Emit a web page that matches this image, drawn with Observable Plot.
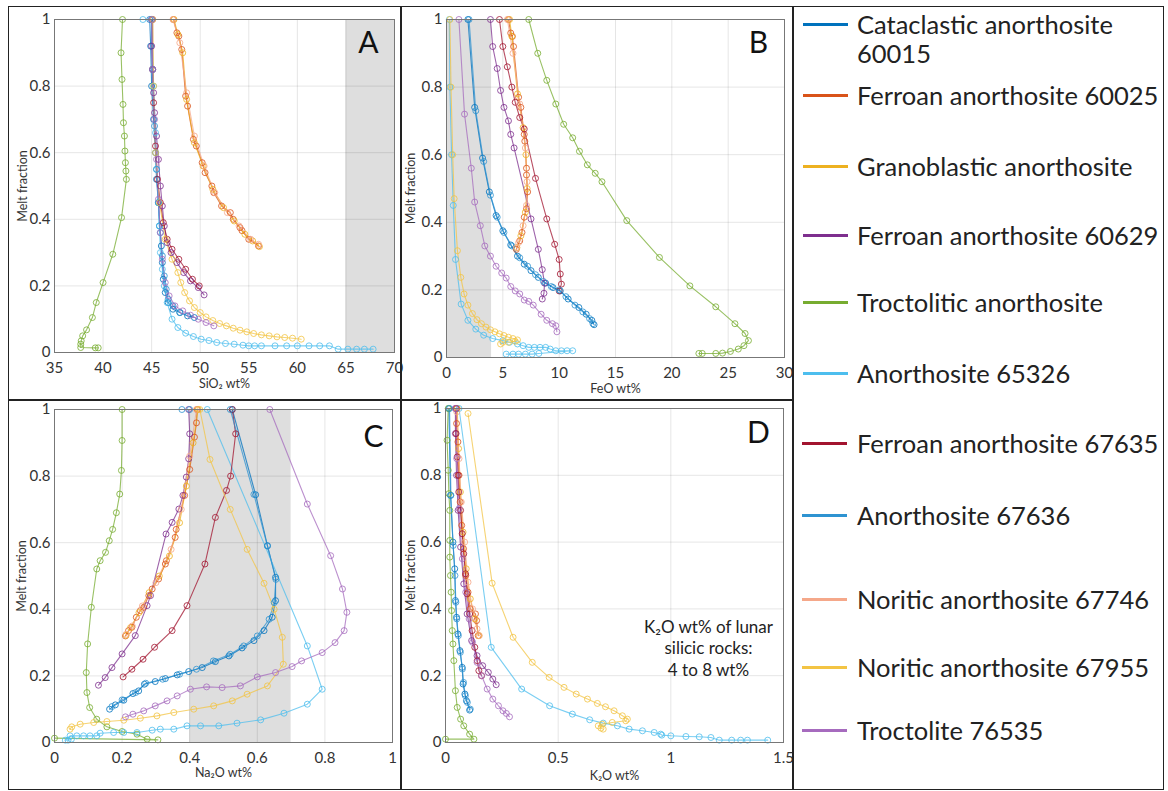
<!DOCTYPE html>
<html><head><meta charset="utf-8">
<script src="https://cdn.jsdelivr.net/npm/d3@7"></script>
<script src="https://cdn.jsdelivr.net/npm/@observablehq/plot@0.6"></script>
<style>
body{margin:0;background:#fff;font-family:Lato,"Open Sans",sans-serif;}
#wrap{position:relative;width:1168px;height:791px;overflow:hidden;}
.pan{position:absolute;}
.box{position:absolute;border:1.5px solid #222;box-sizing:border-box;pointer-events:none;}
.lg-line{position:absolute;height:3px;width:45px;}
.lg-text{position:absolute;font-size:25.5px;color:#222;line-height:30px;white-space:nowrap;transform:translateY(-50%);}
</style></head><body><div id="wrap"></div>
<script>
// ---------- series ----------
const seriesNames = ["Cataclastic anorthosite 60015","Ferroan anorthosite 60025","Granoblastic anorthosite","Ferroan anorthosite 60629","Troctolitic anorthosite","Anorthosite 65326","Ferroan anorthosite 67635","Anorthosite 67636","Noritic anorthosite 67746","Noritic anorthosite 67955","Troctolite 76535"];
const legendLabels = [["Cataclastic anorthosite","60015"],["Ferroan anorthosite 60025"],["Granoblastic anorthosite"],["Ferroan anorthosite 60629"],["Troctolitic anorthosite"],["Anorthosite 65326"],["Ferroan anorthosite 67635"],["Anorthosite 67636"],["Noritic anorthosite 67746"],["Noritic anorthosite 67955"],["Troctolite 76535"]];
const seriesColors = ["#0072BD","#D95319","#EDB120","#7E2F8E","#77AC30","#4DBEEE","#A2142F","#2E93D1","#F5A88A","#F3C444","#A66BBE"];

// ---------- ticks ----------
const yTicks = [0,0.2,0.4,0.6,0.8,1];
const ticksSiO2 = [35,40,45,50,55,60,65,70];
const ticksFeO = [0,5,10,15,20,25,30];
const ticksNa2O = [0,0.2,0.4,0.6,0.8,1];
const ticksK2O = [0,0.5,1,1.5];
const shadeSiO2 = [65,70];
const shadeFeO = [0,4];
const shadeNa2O = [0.4,0.7];

// ---------- Panel A: SiO2 wt% vs melt fraction ----------
const sio2_60015 = [[44.8,1],[44.9,0.92],[45.0,0.8],[45.2,0.7],[45.4,0.6],[45.5,0.52],[45.7,0.45],[45.8,0.38],[46.0,0.32],[46.1,0.27],[46.2,0.22],[46.4,0.18],[46.7,0.15],[47.2,0.13],[47.9,0.12],[48.7,0.11],[49.4,0.105]];
const sio2_60025 = [[47.25,1],[47.6,0.96],[47.8,0.95],[48.1,0.91],[48.5,0.77],[48.7,0.74],[49.3,0.64],[49.6,0.62],[50.2,0.57],[50.5,0.54],[51.2,0.5],[51.4,0.48],[52.2,0.44],[53.1,0.42],[53.4,0.4],[54.1,0.375],[54.3,0.366],[55.0,0.34],[56.0,0.32]];
const sio2_gran = [[47.3,1],[47.7,0.955],[48.2,0.9],[48.6,0.76],[49.4,0.63],[50.3,0.56],[51.3,0.49],[52.4,0.435],[53.5,0.395],[54.6,0.355],[55.4,0.335],[56.1,0.318]];
const sio2_60629 = [[45.0,1],[45.0,0.92],[45.1,0.85],[45.2,0.78],[45.3,0.72],[45.5,0.65],[45.7,0.58],[45.9,0.5],[46.1,0.44],[46.3,0.38],[46.6,0.33],[47.0,0.3],[47.6,0.27],[48.3,0.24],[49.0,0.215],[49.8,0.195],[50.4,0.173]];
const sio2_troct = [[42.0,1],[41.85,0.9],[41.95,0.82],[42.05,0.745],[42.1,0.69],[42.2,0.65],[42.25,0.605],[42.3,0.57],[42.35,0.545],[42.4,0.52],[41.9,0.405],[41.0,0.295],[40.0,0.21],[39.3,0.15],[38.9,0.105],[38.3,0.068],[37.9,0.05],[37.75,0.035],[37.7,0.025],[37.7,0.015],[39.2,0.014],[39.5,0.014]];
const sio2_65326 = [[44.1,1],[45.0,1],[45.2,0.8],[45.4,0.66],[45.5,0.55],[45.7,0.45],[45.8,0.38],[45.9,0.3],[46.1,0.25],[46.3,0.2],[46.6,0.15],[47.1,0.1],[47.7,0.075],[48.5,0.058],[49.3,0.048],[50.1,0.04],[50.9,0.036],[51.7,0.03],[52.6,0.027],[53.5,0.025],[54.4,0.022],[55.0,0.02],[55.6,0.02],[56.3,0.02],[57.7,0.02],[58.9,0.02],[60.0,0.02],[61.2,0.02],[62.3,0.02],[63.3,0.02],[64.2,0.01],[65.2,0.01],[66.1,0.01],[66.9,0.01],[67.8,0.01]];
const sio2_67635 = [[45.1,1],[45.1,0.85],[45.2,0.75],[45.4,0.62],[45.6,0.52],[45.9,0.45],[46.2,0.39],[46.6,0.34],[47.1,0.31],[47.8,0.28],[48.5,0.25],[49.2,0.22],[49.9,0.2]];
const sio2_67636 = [[45.0,1],[45.1,0.85],[45.3,0.68],[45.5,0.55],[45.7,0.45],[45.9,0.36],[46.1,0.29],[46.3,0.23],[46.5,0.19],[46.7,0.16],[47.2,0.14],[47.9,0.12]];
const sio2_67746 = [[47.2,1],[47.9,0.93],[48.6,0.78],[49.4,0.65],[50.4,0.56],[51.5,0.48],[52.8,0.42],[54.0,0.38],[55.2,0.34],[56.0,0.325]];
const sio2_67955 = [[45.1,1],[45.2,0.8],[45.4,0.6],[45.8,0.45],[46.4,0.34],[47.1,0.28],[47.7,0.24],[48.0,0.21],[48.4,0.18],[48.9,0.155],[49.4,0.135],[50.0,0.12],[50.6,0.107],[51.3,0.096],[52.0,0.087],[52.7,0.08],[53.4,0.073],[54.1,0.067],[54.8,0.062],[55.5,0.057],[56.3,0.053],[57.1,0.05],[57.9,0.047],[58.7,0.045],[59.5,0.043],[60.4,0.04]];
const sio2_76535 = [[45.0,1],[45.1,0.85],[45.3,0.7],[45.5,0.58],[45.7,0.46],[45.9,0.36],[46.1,0.28],[46.4,0.21],[46.8,0.17],[47.4,0.14],[48.2,0.125],[49.0,0.112],[49.8,0.1],[50.6,0.09],[51.4,0.08]];

// ---------- Panel B: FeO wt% ----------
const feo_60015 = [[1.9,1],[2.5,0.74],[3.2,0.59],[3.8,0.49],[4.4,0.42],[5.0,0.375],[5.7,0.333],[6.3,0.3],[6.9,0.276],[7.5,0.257],[8.15,0.237],[8.8,0.22],[9.45,0.207],[10.1,0.197],[10.8,0.173],[11.75,0.148],[12.4,0.128],[12.9,0.11],[13.1,0.097]];
const feo_60025 = [[5.5,1],[5.7,0.96],[5.85,0.95],[5.95,0.92],[6.4,0.77],[6.6,0.74],[6.9,0.66],[6.95,0.64],[7.1,0.56],[7.1,0.54],[7.2,0.49],[7.1,0.44],[6.9,0.415],[6.7,0.37],[6.5,0.345],[6.2,0.32]];
const feo_gran = [[5.6,1],[5.8,0.95],[6.3,0.78],[6.8,0.68],[7.05,0.6],[7.15,0.5],[7.0,0.43],[6.6,0.36],[6.25,0.325]];
const feo_60629 = [[3.9,1],[4.1,0.92],[4.5,0.855],[4.8,0.79],[5.1,0.74],[5.5,0.7],[5.7,0.66],[6.0,0.62],[7.5,0.41],[8.15,0.32],[8.5,0.26],[8.7,0.22],[8.65,0.19],[8.5,0.173]];
const feo_troct = [[7.3,1],[8.1,0.9],[8.9,0.82],[9.7,0.75],[10.4,0.69],[11.2,0.65],[11.8,0.61],[12.5,0.57],[13.2,0.545],[13.8,0.52],[16.0,0.405],[18.9,0.296],[21.6,0.212],[23.9,0.15],[25.6,0.1],[26.5,0.071],[26.8,0.05],[26.4,0.035],[25.9,0.025],[25.2,0.018],[24.5,0.013],[23.9,0.012],[22.7,0.012],[22.4,0.012]];
const feo_65326 = [[0.25,1],[0.3,0.8],[0.45,0.6],[0.6,0.45],[0.8,0.29],[1.3,0.158],[1.9,0.11],[2.6,0.084],[3.3,0.066],[4.1,0.056],[5.0,0.05],[5.6,0.045],[6.3,0.04],[6.8,0.035],[7.3,0.03],[7.8,0.03],[8.3,0.03],[8.8,0.03],[9.2,0.025],[9.7,0.02],[10.2,0.02],[10.7,0.02],[11.2,0.02],[8.2,0.012],[7.6,0.01],[7.0,0.01],[6.4,0.01],[5.9,0.01],[5.3,0.01]];
const feo_67635 = [[4.7,1],[5.0,0.92],[5.4,0.86],[5.8,0.8],[6.1,0.755],[6.5,0.71],[6.9,0.676],[7.9,0.53],[8.9,0.41],[9.6,0.335],[10.0,0.29],[10.1,0.247],[10.2,0.217],[10.0,0.197]];
const feo_67636 = [[2.0,1],[2.6,0.73],[3.3,0.58],[3.9,0.48],[4.5,0.415],[5.1,0.37],[5.8,0.33],[6.5,0.295],[7.2,0.27],[7.9,0.245],[8.6,0.225],[9.3,0.21],[10.0,0.2],[10.6,0.18],[11.4,0.155],[12.1,0.135],[12.7,0.115],[13.0,0.1]];
const feo_67746 = [[5.4,1],[5.9,0.9],[6.5,0.75],[7.0,0.62],[7.15,0.52],[7.1,0.45],[6.8,0.39],[6.4,0.34],[6.2,0.325]];
const feo_67955 = [[0.3,1],[0.4,0.8],[0.55,0.6],[0.68,0.47],[0.97,0.316],[1.27,0.237],[1.56,0.188],[1.9,0.155],[2.3,0.13],[2.7,0.112],[3.1,0.1],[3.5,0.09],[3.9,0.082],[4.3,0.076],[4.7,0.07],[5.1,0.065],[5.5,0.06],[5.9,0.056],[6.3,0.052],[6.1,0.048],[5.5,0.045],[5.0,0.045],[4.8,0.04]];
const feo_76535 = [[1.1,1],[1.6,0.72],[2.2,0.56],[2.5,0.46],[3.0,0.39],[3.4,0.33],[3.9,0.3],[4.4,0.27],[4.9,0.25],[5.3,0.235],[5.7,0.21],[6.1,0.197],[6.5,0.188],[6.9,0.17],[7.3,0.166],[7.7,0.155],[8.4,0.128],[8.9,0.11],[9.4,0.1],[9.7,0.094],[9.8,0.076]];

// ---------- Panel C: Na2O wt% ----------
const na2o_60015 = [[0.526,1],[0.595,0.744],[0.63,0.591],[0.654,0.496],[0.654,0.426],[0.644,0.376],[0.62,0.336],[0.59,0.306],[0.555,0.284],[0.516,0.26],[0.476,0.243],[0.437,0.225],[0.397,0.213],[0.363,0.203],[0.328,0.192],[0.298,0.183],[0.266,0.175],[0.249,0.155],[0.232,0.147],[0.205,0.127],[0.18,0.113],[0.163,0.1]];
const na2o_60025 = [[0.422,1],[0.42,0.96],[0.414,0.917],[0.4,0.82],[0.385,0.742],[0.36,0.64],[0.357,0.616],[0.331,0.546],[0.328,0.536],[0.308,0.491],[0.289,0.461],[0.279,0.441],[0.264,0.406],[0.254,0.396],[0.242,0.376],[0.229,0.346],[0.219,0.336],[0.21,0.32]];
const na2o_gran = [[0.425,1],[0.41,0.9],[0.39,0.77],[0.37,0.66],[0.34,0.56],[0.31,0.5],[0.28,0.45],[0.25,0.39],[0.225,0.345],[0.212,0.322]];
const na2o_60629 = [[0.397,1],[0.4,0.927],[0.397,0.852],[0.39,0.797],[0.38,0.742],[0.368,0.701],[0.348,0.661],[0.33,0.626],[0.284,0.441],[0.274,0.411],[0.239,0.321],[0.2,0.266],[0.17,0.225],[0.15,0.195],[0.13,0.172]];
const na2o_troct = [[0.2,1],[0.2,0.907],[0.198,0.817],[0.193,0.746],[0.183,0.69],[0.172,0.64],[0.162,0.606],[0.151,0.571],[0.135,0.546],[0.125,0.521],[0.109,0.406],[0.098,0.296],[0.094,0.21],[0.096,0.15],[0.104,0.105],[0.125,0.07],[0.155,0.047],[0.2,0.033],[0.244,0.025],[0.274,0.01],[0.306,0.008],[0.0,0.013]];
const na2o_65326 = [[0.452,1],[0.748,0.29],[0.792,0.16],[0.748,0.115],[0.679,0.088],[0.61,0.068],[0.54,0.058],[0.486,0.05],[0.432,0.05],[0.392,0.05],[0.353,0.04],[0.313,0.04],[0.289,0.037],[0.244,0.03],[0.205,0.03],[0.175,0.03],[0.135,0.028],[0.125,0.02],[0.105,0.02],[0.086,0.02],[0.066,0.02],[0.046,0.02],[0.032,0.007],[0.04,0.007],[0.05,0.01]];
const na2o_67635 = [[0.526,1],[0.536,0.927],[0.521,0.8],[0.509,0.757],[0.476,0.676],[0.445,0.536],[0.392,0.411],[0.348,0.336],[0.296,0.286],[0.262,0.25],[0.229,0.22],[0.203,0.197]];
const na2o_67636 = [[0.377,1],[0.4,1],[0.52,1],[0.59,0.745],[0.63,0.59],[0.655,0.49],[0.65,0.42],[0.635,0.37],[0.6,0.32],[0.56,0.29],[0.52,0.265],[0.47,0.245],[0.42,0.22],[0.37,0.205],[0.32,0.19],[0.27,0.178],[0.24,0.15],[0.2,0.128],[0.17,0.108]];
const na2o_67746 = [[0.42,1],[0.4,0.86],[0.375,0.7],[0.345,0.58],[0.3,0.48],[0.26,0.41],[0.23,0.35],[0.212,0.325]];
const na2o_67955 = [[0.43,1],[0.46,0.85],[0.52,0.7],[0.57,0.58],[0.62,0.478],[0.65,0.4],[0.674,0.316],[0.677,0.235],[0.63,0.17],[0.57,0.145],[0.526,0.125],[0.471,0.11],[0.412,0.1],[0.353,0.09],[0.303,0.08],[0.254,0.073],[0.205,0.067],[0.155,0.063],[0.116,0.06],[0.076,0.055],[0.051,0.047],[0.046,0.04]];
const na2o_76535 = [[0.637,1],[0.748,0.716],[0.817,0.561],[0.852,0.461],[0.865,0.391],[0.857,0.336],[0.83,0.3],[0.792,0.27],[0.731,0.245],[0.703,0.228],[0.654,0.21],[0.6,0.197],[0.55,0.17],[0.496,0.165],[0.45,0.167],[0.402,0.16],[0.363,0.14],[0.333,0.125],[0.298,0.11],[0.264,0.095],[0.232,0.085],[0.21,0.077]];

// ---------- Panel D: K2O wt% ----------
const k2o_60015 = [[0.015,1],[0.022,0.74],[0.033,0.6],[0.041,0.52],[0.044,0.425],[0.049,0.375],[0.055,0.325],[0.064,0.275],[0.074,0.225],[0.078,0.175],[0.086,0.145],[0.093,0.125],[0.107,0.097]];
const k2o_60025 = [[0.05,1],[0.049,0.955],[0.055,0.9],[0.06,0.8],[0.065,0.72],[0.072,0.65],[0.08,0.58],[0.09,0.5],[0.1,0.45],[0.11,0.4],[0.133,0.385],[0.138,0.365],[0.145,0.32]];
const k2o_gran = [[0.052,1],[0.058,0.88],[0.066,0.75],[0.078,0.63],[0.092,0.52],[0.11,0.43],[0.13,0.37],[0.148,0.32]];
const k2o_60629 = [[0.044,1],[0.044,0.925],[0.049,0.8],[0.056,0.695],[0.067,0.585],[0.081,0.475],[0.096,0.385],[0.116,0.305],[0.14,0.26],[0.165,0.23],[0.19,0.21],[0.21,0.19],[0.225,0.173]];
const k2o_troct = [[0.012,1],[0.007,0.905],[0.012,0.815],[0.015,0.745],[0.019,0.695],[0.019,0.605],[0.019,0.555],[0.022,0.5],[0.025,0.45],[0.027,0.395],[0.03,0.335],[0.033,0.295],[0.037,0.245],[0.044,0.155],[0.052,0.105],[0.067,0.07],[0.081,0.05],[0.107,0.025],[0.126,0.01],[0.0,0.01]];
const k2o_65326 = [[0.06,1],[0.203,0.285],[0.338,0.16],[0.462,0.11],[0.563,0.085],[0.64,0.068],[0.7,0.058],[0.763,0.05],[0.815,0.04],[0.874,0.035],[0.926,0.03],[0.955,0.025],[0.96,0.022],[1.0,0.02],[1.067,0.018],[1.126,0.017],[1.178,0.015],[1.215,0.007],[1.27,0.007],[1.31,0.007],[1.34,0.007],[1.43,0.007]];
const k2o_67635 = [[0.047,1],[0.047,0.925],[0.052,0.855],[0.056,0.8],[0.059,0.75],[0.067,0.695],[0.074,0.625],[0.081,0.565],[0.089,0.505],[0.096,0.445],[0.107,0.385],[0.118,0.335],[0.13,0.285],[0.141,0.245],[0.148,0.215],[0.16,0.2]];
const k2o_67636 = [[0.018,1],[0.024,0.74],[0.034,0.59],[0.042,0.5],[0.046,0.42],[0.05,0.37],[0.057,0.32],[0.066,0.27],[0.075,0.22],[0.08,0.18],[0.088,0.14],[0.097,0.12],[0.11,0.1]];
const k2o_67746 = [[0.05,0.99],[0.06,0.85],[0.07,0.72],[0.085,0.6],[0.1,0.48],[0.12,0.4],[0.14,0.34],[0.15,0.32]];
const k2o_67955 = [[0.1,0.985],[0.207,0.477],[0.3,0.315],[0.385,0.24],[0.46,0.195],[0.526,0.165],[0.58,0.145],[0.63,0.13],[0.674,0.117],[0.71,0.107],[0.748,0.095],[0.785,0.08],[0.807,0.07],[0.8,0.065],[0.74,0.06],[0.696,0.055],[0.678,0.05],[0.69,0.043],[0.7,0.04]];
const k2o_76535 = [[0.045,1],[0.05,0.85],[0.06,0.7],[0.075,0.55],[0.09,0.45],[0.105,0.37],[0.12,0.3],[0.14,0.24],[0.16,0.2],[0.185,0.16],[0.21,0.13],[0.235,0.11],[0.255,0.095],[0.27,0.087],[0.284,0.077]];

const noteK2O = ["K\u2082O wt% of lunar","silicic rocks:","4 to 8 wt%"];
const noteK2OPos = [1.167, [0.345, 0.28, 0.215]];

// ---------- builder ----------
const fmt = d => String(+(+d).toFixed(2));
function rowsOf(list){
  const rows = [];
  list.forEach((pts,i)=>pts.forEach(([x,y])=>rows.push({x,y,s:seriesNames[i]})));
  return rows;
}
function panel(o){
  const rows = rowsOf(o.series);
  const marks = [];
  if (o.shade) marks.push(Plot.rect([o.shade],{x1:d=>d[0],x2:d=>d[1],y1:()=>yTicks[0],y2:()=>yTicks[yTicks.length-1],fill:"#dedede"}));
  marks.push(
    Plot.gridX(o.xTicks,{stroke:"#000",strokeOpacity:0.1}),
    Plot.gridY(yTicks,{stroke:"#000",strokeOpacity:0.1}),
    Plot.line(rows,{x:"x",y:"y",z:"s",stroke:"s",strokeWidth:1.1,strokeOpacity:0.75}),
    Plot.dot(rows,{x:"x",y:"y",stroke:"s",r:3,fill:"none",strokeWidth:1,strokeOpacity:0.8}),
    Plot.frame({stroke:"#777",strokeWidth:1}),
    Plot.axisX(o.xTicks,{tickSize:0,tickPadding:10,fontSize:15,label:null,tickFormat:fmt}),
    Plot.axisY(yTicks,{tickSize:0,tickPadding:4,fontSize:15,label:null,tickFormat:fmt}),
    Plot.text([o.xLabel],{frameAnchor:"bottom",dy:o.xLabelDy,fontSize:12.5,text:d=>d,lineAnchor:"middle",fill:"#333"}),
    Plot.text(["Melt fraction"],{frameAnchor:"left",dx:o.yLabelDx,rotate:-90,fontSize:12.5,text:d=>d,lineAnchor:"middle",textAnchor:"middle",fill:"#333"}),
    Plot.text([o.letter],{frameAnchor:"top-right",dx:o.letterDx,dy:o.letterDy,fontSize:30,text:d=>d,textAnchor:"middle",lineAnchor:"middle",fill:"#111"})
  );
  if (o.extra) marks.push(...o.extra);
  const svg = Plot.plot({
    width:o.width,height:o.height,
    marginLeft:o.m[0],marginRight:o.m[1],marginTop:o.m[2],marginBottom:o.m[3],
    x:{domain:[o.xTicks[0],o.xTicks[o.xTicks.length-1]]},
    y:{domain:[0,1]},
    color:{domain:seriesNames,range:seriesColors},
    style:{fontFamily:"Lato, 'Open Sans', sans-serif",color:"#333",background:"transparent",overflow:"visible"},
    marks
  });
  const div = document.createElement("div");
  div.className="pan";
  div.style.left=o.left+"px"; div.style.top=o.top+"px";
  div.appendChild(svg);
  document.getElementById("wrap").appendChild(div);
}

panel({series:[sio2_60015,sio2_60025,sio2_gran,sio2_60629,sio2_troct,sio2_65326,sio2_67635,sio2_67636,sio2_67746,sio2_67955,sio2_76535],
  xTicks:ticksSiO2,shade:shadeSiO2,xLabel:"SiO\u2082 wt%",xLabelDy:31,yLabelDx:-32,letter:"A",letterDx:-26,letterDy:24,
  left:8,top:6,width:393,height:394,m:[46,7,13,48]});
panel({series:[feo_60015,feo_60025,feo_gran,feo_60629,feo_troct,feo_65326,feo_67635,feo_67636,feo_67746,feo_67955,feo_76535],
  xTicks:ticksFeO,shade:shadeFeO,xLabel:"FeO wt%",xLabelDy:31,yLabelDx:-36,letter:"B",letterDx:-26,letterDy:24,
  left:401,top:6,width:392,height:394,m:[45,9,13,43]});
panel({series:[na2o_60015,na2o_60025,na2o_gran,na2o_60629,na2o_troct,na2o_65326,na2o_67635,na2o_67636,na2o_67746,na2o_67955,na2o_76535],
  xTicks:ticksNa2O,shade:shadeNa2O,xLabel:"Na\u2082O wt%",xLabelDy:30,yLabelDx:-33,letter:"C",letterDx:-19,letterDy:28,
  left:8,top:400,width:393,height:389,m:[46,9,9,47]});
panel({series:[k2o_60015,k2o_60025,k2o_gran,k2o_60629,k2o_troct,k2o_65326,k2o_67635,k2o_67636,k2o_67746,k2o_67955,k2o_76535],
  xTicks:ticksK2O,shade:null,xLabel:"K\u2082O wt%",xLabelDy:33,yLabelDx:-35,letter:"D",letterDx:-25,letterDy:25,
  left:401,top:400,width:392,height:389,m:[44,10,8,47],
  extra:[Plot.text(noteK2O,{x:()=>noteK2OPos[0],y:(d,i)=>noteK2OPos[1][i],text:d=>d,fontSize:17,fill:"#222",textAnchor:"middle",lineAnchor:"middle"})]});

// ---------- frames ----------
const wrap = document.getElementById("wrap");
function box(l,t,w,h){const b=document.createElement("div");b.className="box";Object.assign(b.style,{left:l+"px",top:t+"px",width:w+"px",height:h+"px"});wrap.appendChild(b);}
box(8,6,394,395); box(400,6,394,395); box(8,399,394,391); box(400,399,394,391); box(792,6,372,784);

// ---------- legend ----------
const legendY = [[24,53],[95],[166],[235],[302],[373],[443],[515],[599],[667],[730]];
legendLabels.forEach((lines,i)=>{
  const ln=document.createElement("div");ln.className="lg-line";
  ln.style.left=(i<6?803:802)+"px";ln.style.top=(legendY[i][0]-1.5)+"px";ln.style.background=seriesColors[i];
  wrap.appendChild(ln);
  lines.forEach((t,j)=>{
    const tx=document.createElement("div");tx.className="lg-text";
    tx.style.left="857px";tx.style.top=legendY[i][j]+"px";tx.textContent=t;wrap.appendChild(tx);
  });
});
</script></body></html>
